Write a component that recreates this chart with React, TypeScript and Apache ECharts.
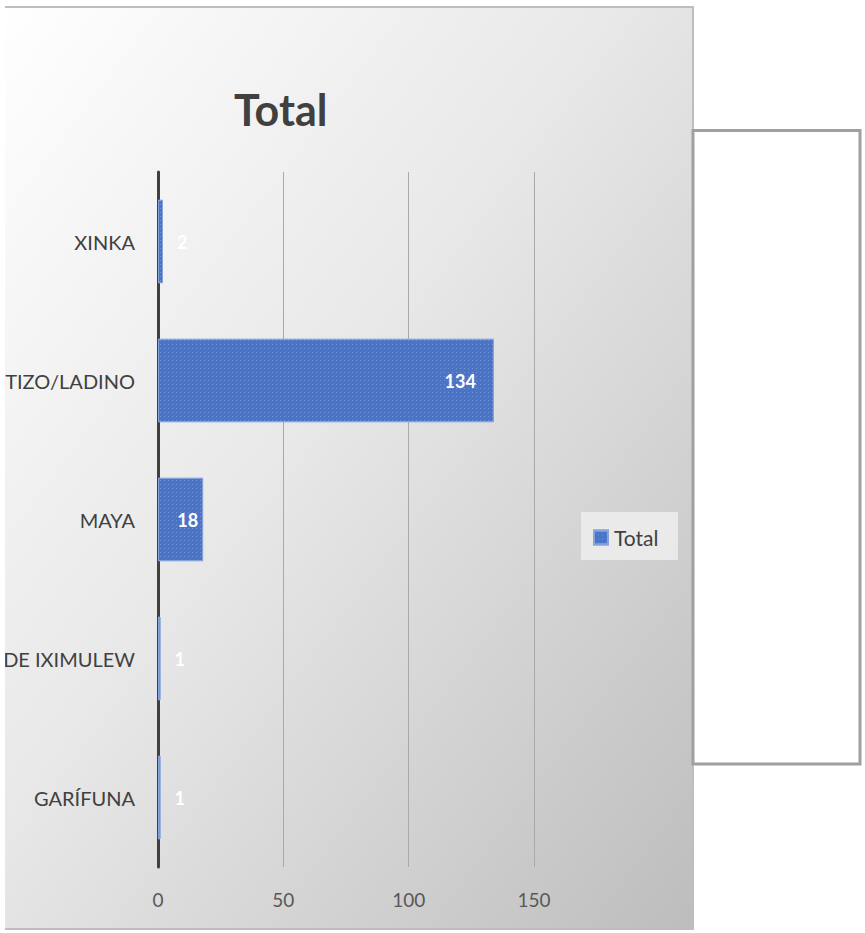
import React, { useEffect, useRef } from "react";
import * as echarts from "echarts";

const categories = ["GARÍFUNA", "DE IXIMULEW", "MAYA", "TIZO/LADINO", "XINKA"];
const totals = [1, 1, 18, 134, 2];
const xTicks = [0, 50, 100, 150];
const seriesName = "Total";
const titleText = "Total";

const FONT = "Lato, 'Open Sans', sans-serif";

export default function App() {
  const ref = useRef<HTMLDivElement>(null);
  useEffect(() => {
    document.body.style.margin = "0";
    const chart = echarts.init(ref.current!, null, { renderer: "svg" });
    const data = totals.map((v) => {
      const big = v >= 10;
      return {
        value: v,
        label: big
          ? { position: "insideRight", distance: v > 100 ? 18 : 5 }
          : { position: "right", distance: 14 },
      };
    });
    chart.setOption({
      animation: false,
      graphic: [
        {
          type: "rect",
          z: -10,
          silent: true,
          shape: { x: -4, y: 7, width: 697, height: 922 },
          style: {
            fill: new echarts.graphic.LinearGradient(0, 0, 1, 1, [
              { offset: 0, color: "#ffffff" },
              { offset: 0.45, color: "#e8e8e8" },
              { offset: 1, color: "#bdbdbd" },
            ]),
            stroke: "#bdbdbd",
            lineWidth: 2,
          },
        },
        {
          type: "rect",
          z: 100,
          silent: true,
          shape: { x: 0, y: 0, width: 5, height: 933 },
          style: { fill: "#ffffff" },
        },
        {
          type: "rect",
          z: -9,
          silent: true,
          shape: { x: 693, y: 130.5, width: 167, height: 633.5 },
          style: { fill: "#ffffff", stroke: "#a0a0a0", lineWidth: 3 },
        },
        {
          type: "rect",
          z: -5,
          silent: true,
          shape: { x: 581, y: 512, width: 97, height: 48 },
          style: { fill: "rgba(236,236,236,0.9)" },
        },
      ],
      title: {
        text: titleText,
        left: 229,
        top: 83,
        textStyle: {
          fontFamily: FONT,
          fontSize: 43,
          fontWeight: "bold",
          color: "#404040",
        },
      },
      legend: {
        left: 593,
        top: 527,
        padding: 0,
        itemWidth: 14,
        itemHeight: 14,
        itemGap: 5,
        icon: "rect",
        data: [seriesName],
        textStyle: { fontFamily: FONT, fontSize: 21, color: "#404040", padding: [0, 0, 0, 1] },
      },
      grid: { left: 158, top: 172, width: 376, height: 695 },
      xAxis: {
        type: "value",
        min: xTicks[0],
        max: xTicks[xTicks.length - 1],
        interval: 50,
        axisLine: { show: false },
        axisTick: { show: false },
        splitLine: { lineStyle: { color: "#a9a9a9", width: 1 } },
        axisLabel: { fontFamily: FONT, fontSize: 19, color: "#595959", margin: 23 },
      },
      yAxis: {
        type: "category",
        data: categories,
        axisLine: { show: true, lineStyle: { color: "#404040", width: 3 } },
        axisTick: { show: false },
        axisLabel: { fontFamily: FONT, fontSize: 20, color: "#404040", margin: 23 },
      },
      series: [
        {
          name: seriesName,
          type: "bar",
          data,
          barCategoryGap: "40%",
          itemStyle: {
            color: "#4a74c8",
            borderColor: "#86a4dc",
            borderWidth: 1,
            decal: {
              symbol: "rect",
              symbolSize: 1,
              dashArrayX: [1, 3],
              dashArrayY: [1, 3],
              color: "rgba(255,255,255,0.22)",
            },
          },
          label: {
            show: true,
            color: "#ffffff",
            fontFamily: FONT,
            fontSize: 18,
            fontWeight: "bold",
          },
        },
      ],
    });
    return () => chart.dispose();
  }, []);
  return <div ref={ref} style={{ width: 865, height: 933 }} />;
}
